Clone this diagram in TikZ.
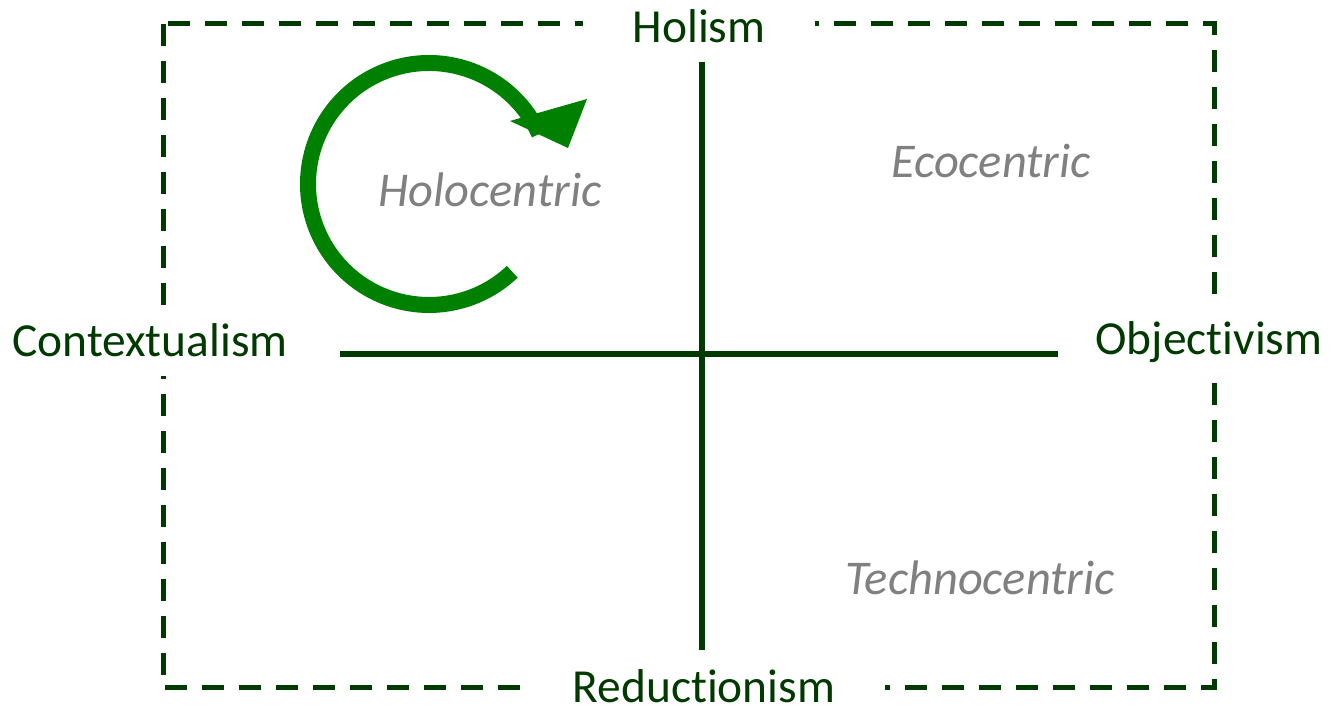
\documentclass[tikz,border=0pt]{standalone}
\usepackage{fontspec}
\setmainfont{Carlito}[Ligatures={NoCommon}]
\usepackage{tikz}
\usetikzlibrary{positioning,calc}
\definecolor{axisgreen}{RGB}{0,58,0}
\definecolor{cyclegreen}{RGB}{0,128,0}
\definecolor{quadgrey}{RGB}{128,128,128}
\tikzstyle{pole} = [text=axisgreen, fill=white, anchor=base, inner xsep=1cm, inner ysep=0.38cm, font=\fontsize{27}{31}\selectfont]
\tikzstyle{quadrant} = [text=quadgrey, anchor=base, font=\fontsize{27.6}{32}\selectfont\itshape]
\tikzstyle{axis} = [draw=axisgreen, line width=0.12cm]
\tikzstyle{dashframe} = [draw=axisgreen, line width=0.1cm, dash pattern=on 0.44cm off 0.3cm]

\begin{document}
\begin{tikzpicture}[x=0.02cm, y=0.02cm]
        \useasboundingbox (0,0) rectangle (1333,713);
        % outer frame
        \draw[dashframe] (163,689) rectangle (1214,25);
        % poles
        \node[pole] (hol) at (699,670) {Holism};
        \node[pole] (red) at (704,10) {Reductionism};
        \node[pole] (ctx) at (150,356) {Contextualism};
        \node[pole] (obj) at (1209,358) {Objectivism};
        % axes
        \coordinate (axN) at (702,651);
        \coordinate (axS) at (702,63);
        \coordinate (axW) at (340,359);
        \coordinate (axE) at (1058,359);
        \draw[axis] (axN) -- (axS);
        \draw[axis] (axW) -- (axE);
        % quadrants
        \node[quadrant] (holo) at (490,506) {Holocentric};
        \node[quadrant] (eco) at (991,535) {Ecocentric};
        \node[quadrant] (tech) at (980,118) {Technocentric};
        % cycle arrow
        \coordinate (cyc) at (429,529);
        \draw[cyclegreen, line width=0.32cm] (cyc) ++(24.4:121) arc[start angle=24.4, end angle=313.5, radius=121];
        \fill[cyclegreen] (510,592) -- (587,614) -- (568,565) -- cycle;
        % \draw[red] (cyc) circle (2);
\end{tikzpicture}
\end{document}
